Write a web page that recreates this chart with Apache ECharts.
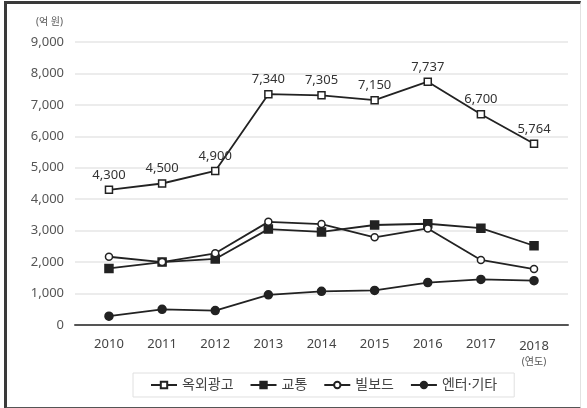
<!DOCTYPE html>
<html>
<head>
<meta charset="utf-8">
<script src="https://cdn.jsdelivr.net/npm/echarts@6/dist/echarts.min.js"></script>
<style>
  html, body { margin: 0; padding: 0; background: #fff; }
  #frame {
    position: absolute; left: 4px; top: 1px; width: 573px; height: 403px;
    border-top: 3px solid #3a3a3a; border-left: 3px solid #3a3a3a;
    border-bottom: 2px solid #555; border-right: 1px solid #e2e2e2;
  }
  #chart { position: absolute; left: 0; top: 0; width: 587px; height: 408px; }
</style>
</head>
<body>
<div id="frame"></div>
<div id="chart"></div>
<script>
const years = ['2010', '2011', '2012', '2013', '2014', '2015', '2016', '2017', '2018']
const outdoor = [4300, 4500, 4900, 7340, 7305, 7150, 7737, 6700, 5764]
const transit = [1800, 2000, 2100, 3050, 2960, 3180, 3220, 3080, 2520]
const billboard = [2170, 2000, 2280, 3280, 3210, 2790, 3070, 2070, 1780]
const etc = [280, 500, 460, 960, 1070, 1100, 1350, 1450, 1410]

const yMax = 9000
const yStep = 1000

const chart = echarts.init(document.getElementById('chart'))
const font = '"Noto Sans", "Noto Sans CJK KR", sans-serif'
const lineColor = '#222'

function lineSeries(name, data, symbol, filled, size) {
  return {
    name: name,
    type: 'line',
    xAxisIndex: 0,
    yAxisIndex: 0,
    data: data,
    symbol: symbol,
    symbolSize: size,
    showAllSymbol: true,
    lineStyle: { color: lineColor, width: 1.8 },
    itemStyle: { color: filled ? lineColor : '#fff', borderColor: lineColor, borderWidth: 1.5 },
    z: 3
  }
}

const series = [
  lineSeries('옥외광고', outdoor, 'rect', false, 7),
  lineSeries('교통', transit, 'rect', true, 8),
  lineSeries('빌보드', billboard, 'circle', false, 7),
  lineSeries('엔터·기타', etc, 'circle', true, 8)
]
// 옥외광고만 값 표시
series[0].label = {
  show: true,
  position: 'top',
  distance: 4,
  fontSize: 13,
  color: '#333',
  fontFamily: font,
  formatter: (p) => p.value.toLocaleString('en-US')
}

chart.setOption({
  animation: false,
  textStyle: { fontFamily: font },
  grid: [
    { left: 82.4, right: 26.4, top: 42, bottom: 83 },
    // 눈금선만 그리는 배경 격자 (조금 더 넓음)
    { left: 75, right: 19, top: 42, bottom: 83 }
  ],
  legend: {
    left: 133,
    top: 373,
    padding: [5, 17],
    itemGap: 16,
    itemWidth: 26,
    itemHeight: 8,
    borderColor: '#e0e0e0',
    borderWidth: 1,
    textStyle: { fontSize: 14, color: '#444', fontFamily: font },
    data: series.map((s) => s.name)
  },
  xAxis: [
    {
      type: 'category',
      gridIndex: 0,
      data: years,
      boundaryGap: true,
      axisLine: { show: false },
      axisTick: { show: false },
      axisLabel: {
        interval: 0,
        margin: 13,
        fontSize: 13,
        color: '#444',
        formatter: (v) => (v === '2018' ? '{a|2018}\n{b|(연도)}' : v),
        rich: {
          a: { fontSize: 13, color: '#444', lineHeight: 16 },
          b: { fontSize: 10, color: '#555', lineHeight: 16 }
        }
      }
    },
    {
      type: 'category',
      gridIndex: 1,
      data: years,
      axisLine: { show: true, lineStyle: { color: '#555', width: 2 } },
      axisTick: { show: false },
      axisLabel: { show: false }
    }
  ],
  yAxis: [
    {
      type: 'value',
      gridIndex: 0,
      min: 0,
      max: yMax,
      interval: yStep,
      axisLabel: { show: false },
      splitLine: { show: false },
      axisLine: { show: false }
    },
    {
      type: 'value',
      gridIndex: 1,
      min: 0,
      max: yMax,
      interval: yStep,
      name: '(억 원)',
      nameLocation: 'end',
      nameGap: 15,
      nameTextStyle: { fontSize: 10, color: '#555', align: 'right', padding: [0, 12, 0, 0] },
      axisLine: { show: false },
      axisTick: { show: false },
      axisLabel: {
        margin: 11,
        fontSize: 13,
        color: '#555',
        formatter: (v) => v.toLocaleString('en-US')
      },
      splitLine: { show: true, lineStyle: { color: '#e6e6e6', width: 1.5 } }
    }
  ],
  series: series
})
</script>
</body>
</html>
